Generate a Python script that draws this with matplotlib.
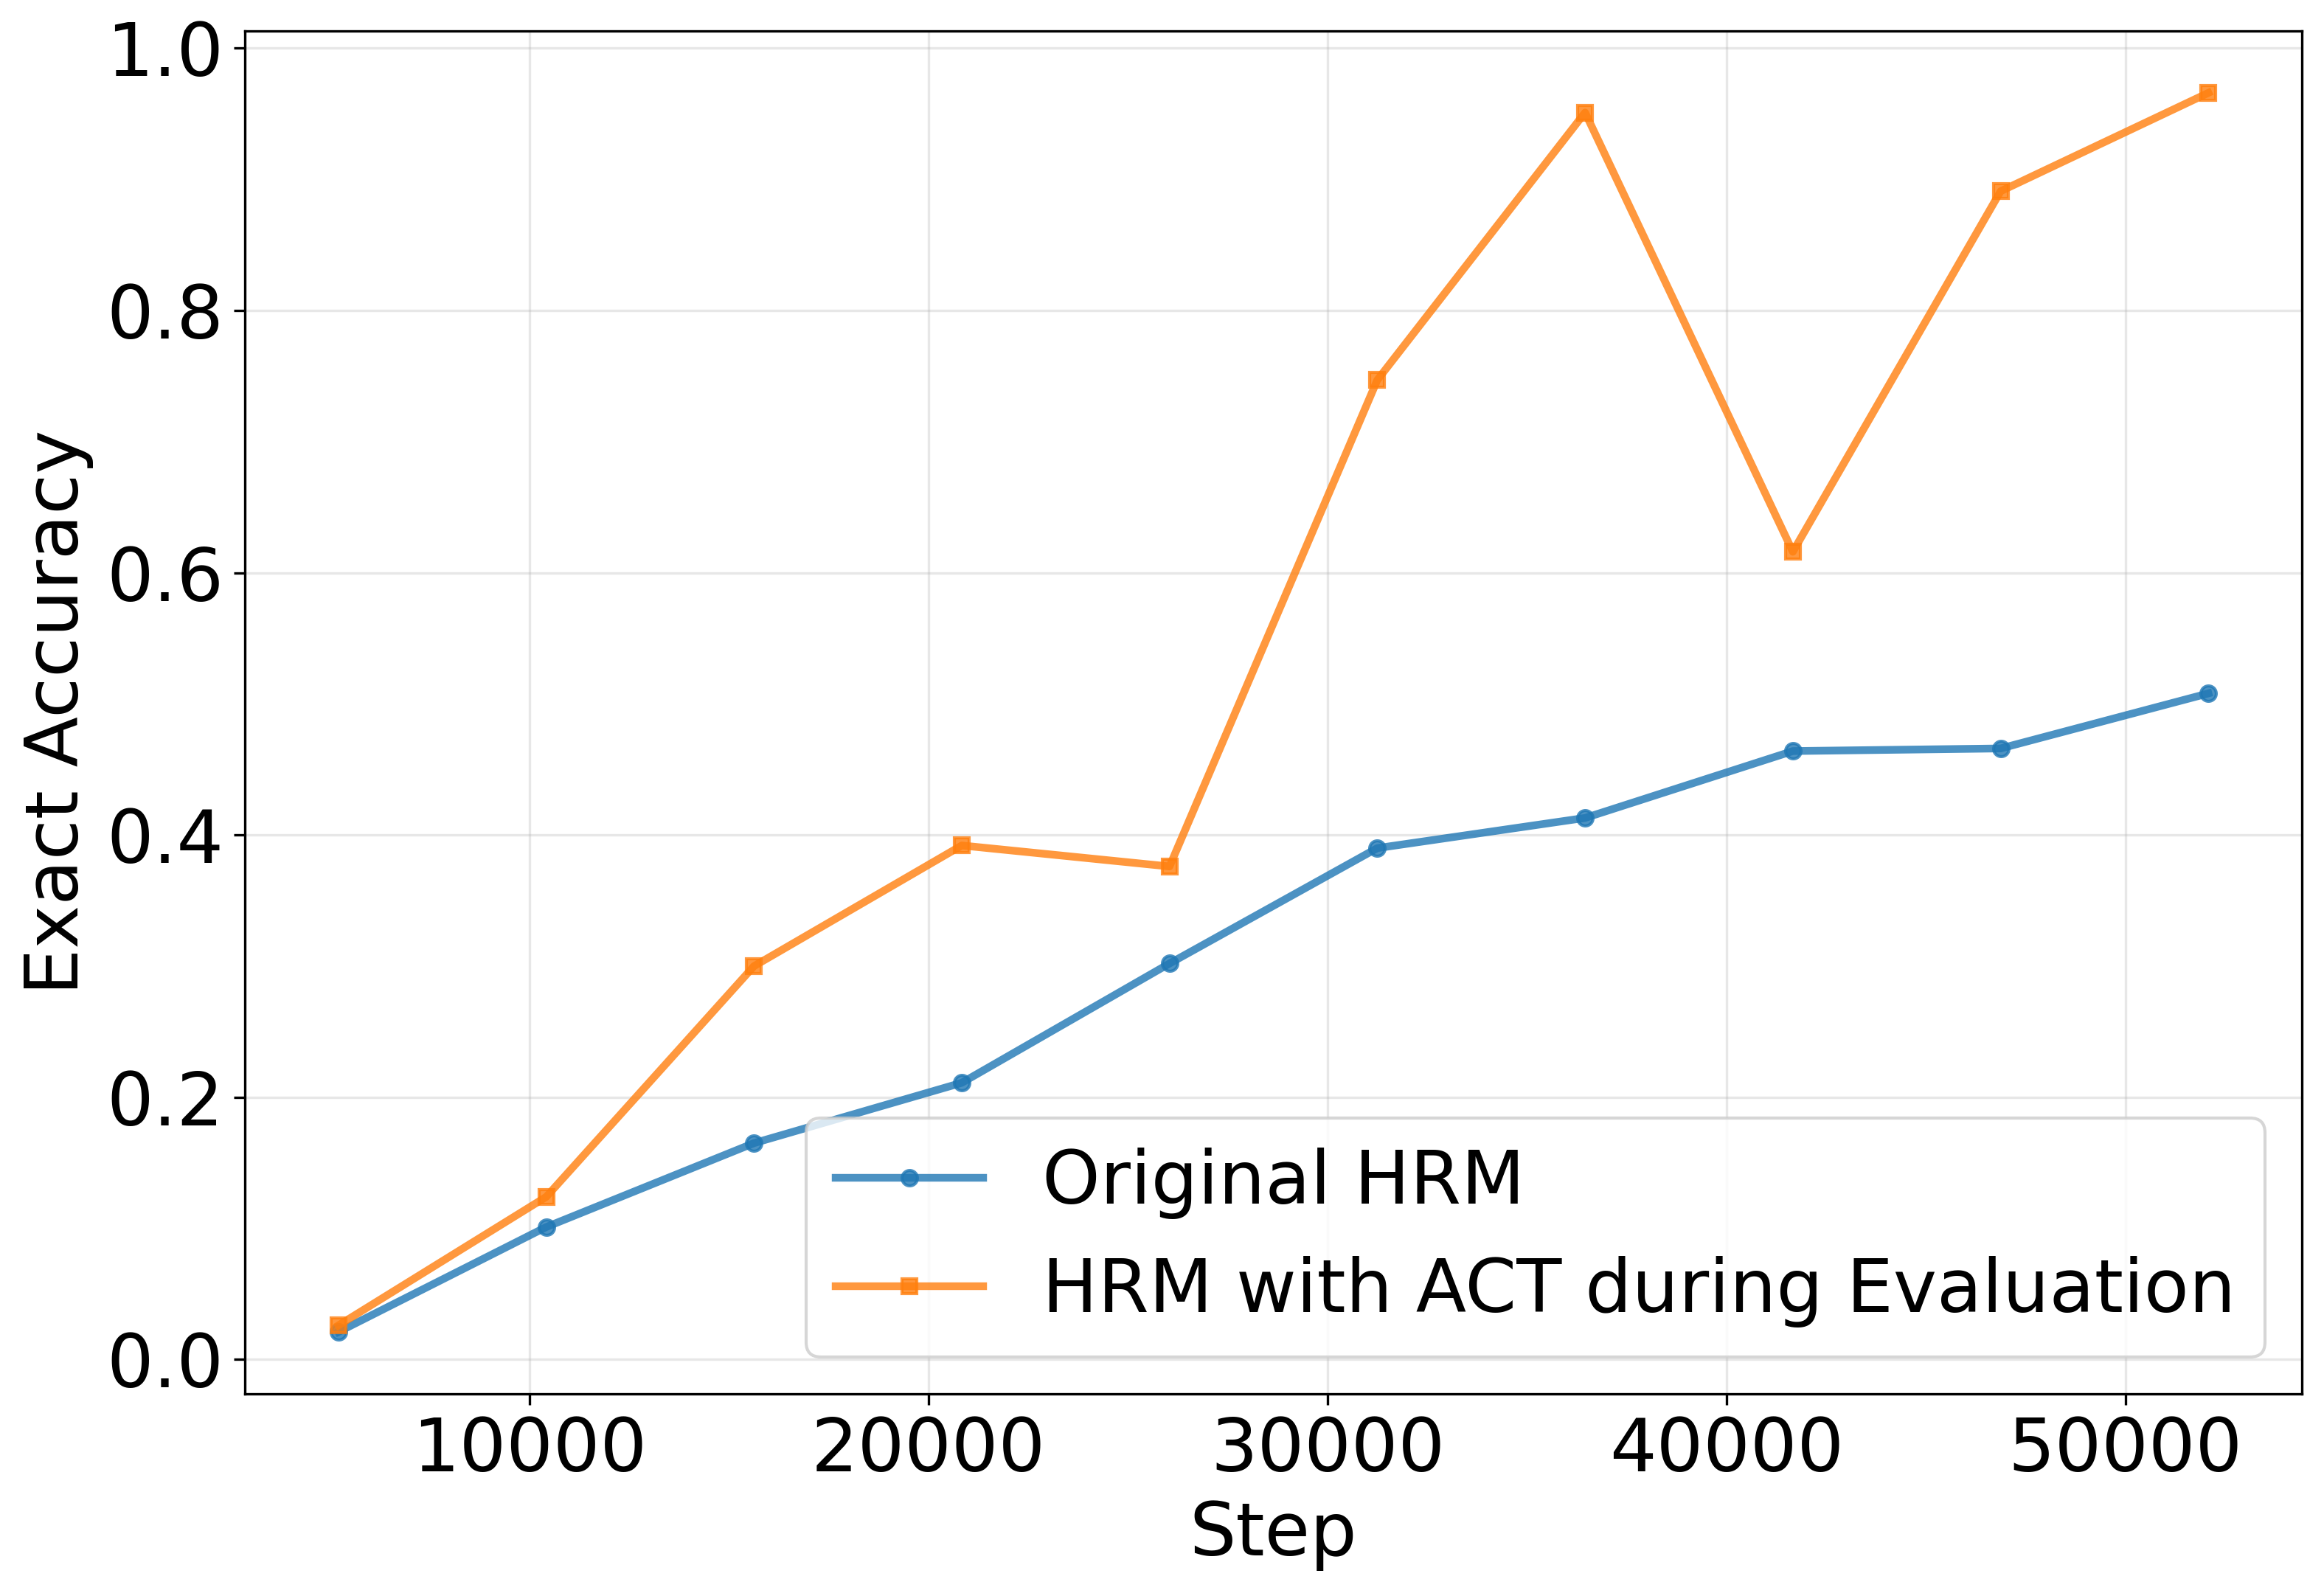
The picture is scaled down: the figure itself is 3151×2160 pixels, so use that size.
import matplotlib
matplotlib.use("Agg")
import matplotlib.pyplot as plt

# evaluation steps and exact accuracy
steps = [5208, 10416, 15624, 20832, 26040, 31248, 36456, 41664, 46872, 52080]
original_hrm = [0.021, 0.101, 0.165, 0.211, 0.302, 0.390, 0.413, 0.464, 0.466, 0.508]
hrm_act_eval = [0.026, 0.124, 0.300, 0.392, 0.376, 0.747, 0.951, 0.616, 0.891, 0.966]

labels = ["Original HRM", "HRM with ACT during Evaluation"]


def main():
    fig, ax = plt.subplots(figsize=(3151 / 300, 2160 / 300), dpi=300)
    fig.subplots_adjust(left=0.1054, right=0.9905, top=0.9806, bottom=0.125)

    ax.plot(steps, original_hrm, marker="o", markersize=5, linewidth=2.5,
            alpha=0.8, color="#1f77b4", label=labels[0])
    ax.plot(steps, hrm_act_eval, marker="s", markersize=5, linewidth=2.5,
            alpha=0.8, color="#ff7f0e", label=labels[1])

    ax.set_xlabel("Step", fontsize=24)
    ax.set_ylabel("Exact Accuracy", fontsize=24)
    ax.tick_params(labelsize=24)
    ax.grid(True, alpha=0.3)
    ax.legend(fontsize=24, loc="lower right")

    fig.savefig("out.png", dpi=300)
    plt.close(fig)


if __name__ == "__main__":
    main()
